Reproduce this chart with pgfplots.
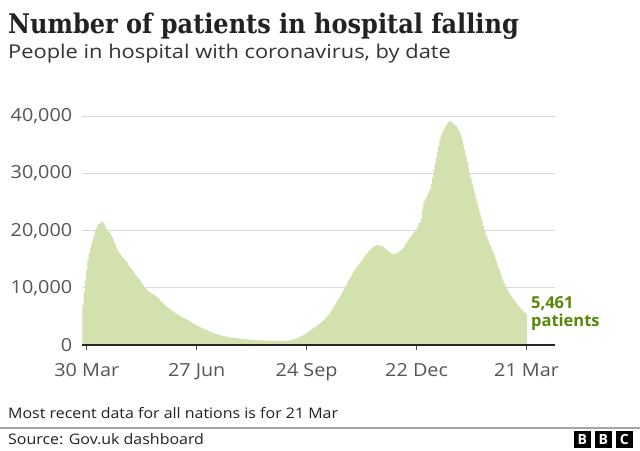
\documentclass[border=0pt]{standalone}
\usepackage{pgfplots}
\pgfplotsset{compat=1.18}
\usepackage{pgfplotstable}
\usepackage{fontspec}
\setmainfont{Open Sans}
\newfontfamily\titlefont[FakeStretch=0.89]{DejaVu Serif}
\newfontfamily\labelfont[FakeStretch=1.1]{Open Sans}
\newfontfamily\subfont[FakeStretch=1.15]{Open Sans}
\definecolor{barcol}{RGB}{210,225,174}
\definecolor{labgrey}{RGB}{85,85,85}
\definecolor{gridgrey}{RGB}{218,218,218}
\definecolor{greenlab}{RGB}{88,136,10}
\definecolor{titlecol}{RGB}{34,34,34}
\definecolor{subcol}{RGB}{51,51,51}
\pgfplotstableread{
day val
-3 7000
-2 9300
-1 11300
0 13100
1 14800
2 15900
3 16900
4 17600
5 18500
6 19200
7 19900
8 20400
9 20900
10 21200
11 21300
12 21500
13 21650
14 21300
15 20800
16 20300
17 20100
18 19800
19 19500
20 19200
21 18700
22 18100
23 17600
24 17100
25 16700
26 16300
27 16000
28 15700
29 15400
30 15200
31 14900
32 14700
33 14400
34 14000
35 13700
36 13400
37 13100
38 12800
39 12500
40 12200
41 11900
42 11700
43 11400
44 11000
45 10700
46 10500
47 10200
48 9900
49 9600
50 9400
51 9300
52 9100
53 9000
54 8800
55 8700
56 8500
57 8400
58 8200
59 8000
60 7700
61 7500
62 7300
63 7100
64 6900
65 6700
66 6500
67 6400
68 6200
69 6000
70 5900
71 5700
72 5600
73 5400
74 5250
75 5150
76 5000
77 4900
78 4800
79 4700
80 4600
81 4500
82 4400
83 4250
84 4100
85 3950
86 3800
87 3700
88 3550
89 3450
90 3300
91 3200
92 3100
93 3000
94 2900
95 2800
96 2700
97 2650
98 2550
99 2450
100 2350
101 2250
102 2150
103 2050
104 1980
105 1900
106 1850
107 1780
108 1720
109 1660
110 1600
111 1550
112 1500
113 1450
114 1420
115 1380
116 1350
117 1310
118 1280
119 1250
120 1220
121 1190
122 1160
123 1130
124 1100
125 1080
126 1060
127 1040
128 1020
129 1000
130 980
131 960
132 940
133 920
134 900
135 880
136 870
137 860
138 850
139 840
140 830
141 810
142 800
143 790
144 780
145 770
146 760
147 750
148 740
149 740
150 730
151 730
152 720
153 720
154 710
155 710
156 700
157 700
158 710
159 700
160 720
161 730
162 750
163 770
164 800
165 850
166 900
167 960
168 1030
169 1100
170 1180
171 1270
172 1370
173 1480
174 1590
175 1700
176 1820
177 1950
178 2080
179 2220
180 2380
181 2550
182 2700
183 2850
184 3000
185 3150
186 3300
187 3450
188 3620
189 3800
190 4000
191 4200
192 4400
193 4650
194 4900
195 5150
196 5400
197 5650
198 5950
199 6300
200 6650
201 7000
202 7400
203 7750
204 8100
205 8450
206 8850
207 9250
208 9650
209 10050
210 10450
211 10850
212 11300
213 11700
214 12050
215 12400
216 12750
217 13050
218 13400
219 13700
220 14000
221 14300
222 14600
223 14900
224 15200
225 15500
226 15800
227 16050
228 16350
229 16600
230 16800
231 17000
232 17150
233 17300
234 17400
235 17550
236 17450
237 17500
238 17350
239 17200
240 17300
241 17000
242 16800
243 16600
244 16500
245 16300
246 16100
247 15950
248 16000
249 15750
250 15900
251 16050
252 16200
253 16300
254 16500
255 16700
256 16900
257 17200
258 17600
259 17900
260 18300
261 18700
262 18900
263 19200
264 19500
265 19800
266 20000
267 20200
268 20700
269 21300
270 21500
271 22200
272 23800
273 25000
274 25500
275 25800
276 26300
277 26800
278 27300
279 28200
280 29300
281 30600
282 31800
283 32800
284 33800
285 34800
286 35900
287 36700
288 37200
289 37700
290 38100
291 38500
292 38800
293 39000
294 39200
295 39000
296 38900
297 38700
298 38500
299 38300
300 38000
301 37700
302 37300
303 36700
304 35900
305 35000
306 34100
307 33100
308 32100
309 31100
310 30100
311 29200
312 28300
313 27400
314 26600
315 25800
316 24900
317 24100
318 23300
319 22500
320 21700
321 20900
322 20100
323 19500
324 18900
325 18300
326 17800
327 17300
328 16800
329 16300
330 15750
331 15100
332 14400
333 13700
334 13100
335 12500
336 11900
337 11300
338 10800
339 10300
340 9900
341 9500
342 9100
343 8800
344 8500
345 8200
346 7900
347 7600
348 7300
349 7000
350 6700
351 6500
352 6300
353 6050
354 5800
355 5650
356 5461
}\hosp

\begin{document}
\begin{tikzpicture}
\useasboundingbox (0,0) rectangle (640pt,-450pt);
\fill[white] (0,0) rectangle (640pt,-450pt);
\node[anchor=base west, inner sep=0, text=titlecol] at (8pt,-33pt) {\titlefont\bfseries\fontsize{27}{30}\selectfont Number of patients in hospital falling};
\node[anchor=base west, inner sep=0, text=subcol] at (8pt,-58pt) {\subfont\fontsize{19}{23}\selectfont People in hospital with coronavirus, by date};
\begin{axis}[
  at={(82.4pt,-345pt)}, anchor=south west,
  scale only axis, width=472.6pt, height=228.5pt,
  xmin=-3.5, xmax=379, ymin=0, ymax=40000,
  clip=false,
  scaled y ticks=false,
  separate axis lines,
  axis x line*=bottom, axis y line*=left,
  y axis line style={draw=none},
  x axis line style={draw=black!85, line width=1.3pt, -},
  ytick={0,10000,20000,30000,40000},
  yticklabels={0,{10,000},{20,000},{30,000},{40,000}},
  ymajorgrids, grid style={draw=gridgrey, line width=0.9pt},
  ytick style={draw=none}, ytick align=inside,
  xtick={0,89,178,267,356},
  xticklabels={30 Mar,27 Jun,24 Sep,22 Dec,21 Mar},
  xtick align=outside, major tick length=5pt,
  xtick style={draw=black!70, line width=1pt},
  ticklabel style={font=\labelfont\fontsize{18}{20}\selectfont, text=labgrey},
  yticklabel style={anchor=east, inner sep=0pt, xshift=-10pt},
  xticklabel style={anchor=north, inner sep=0pt, yshift=-13pt},
]
\addplot[ybar, bar width=1, fill=barcol, draw=none] table[x=day,y=val] {\hosp};
\draw[draw=black!85, line width=1.3pt] (axis cs:-3.5,0) -- (axis cs:379,0);
\node[anchor=west, align=left, inner sep=0, text=greenlab, font=\bfseries\fontsize{16.5}{18}\selectfont] at (axis cs:359.5,5461) {5,461\\patients};
\end{axis}
\node[anchor=base west, inner sep=0, text=titlecol] at (8pt,-418pt) {\labelfont\fontsize{14.5}{18}\selectfont Most recent data for all nations is for 21 Mar};
\draw[gray!70, line width=1.3pt] (0pt,-428pt) -- (640pt,-428pt);
\node[anchor=base west, inner sep=0, text=titlecol] at (8pt,-444pt) {\labelfont\fontsize{14.5}{18}\selectfont Source: Gov.uk dashboard};
\foreach \i/\l in {0/B,1/B,2/C}{
  \fill[black] ({573.5pt+\i*21pt},-430.5pt) rectangle ({591pt+\i*21pt},-447.5pt);
  \node[text=white, inner sep=0, font=\bfseries\fontsize{14}{14}\selectfont] at ({582.25pt+\i*21pt},-439pt) {\l};
}
\end{tikzpicture}
\end{document}
